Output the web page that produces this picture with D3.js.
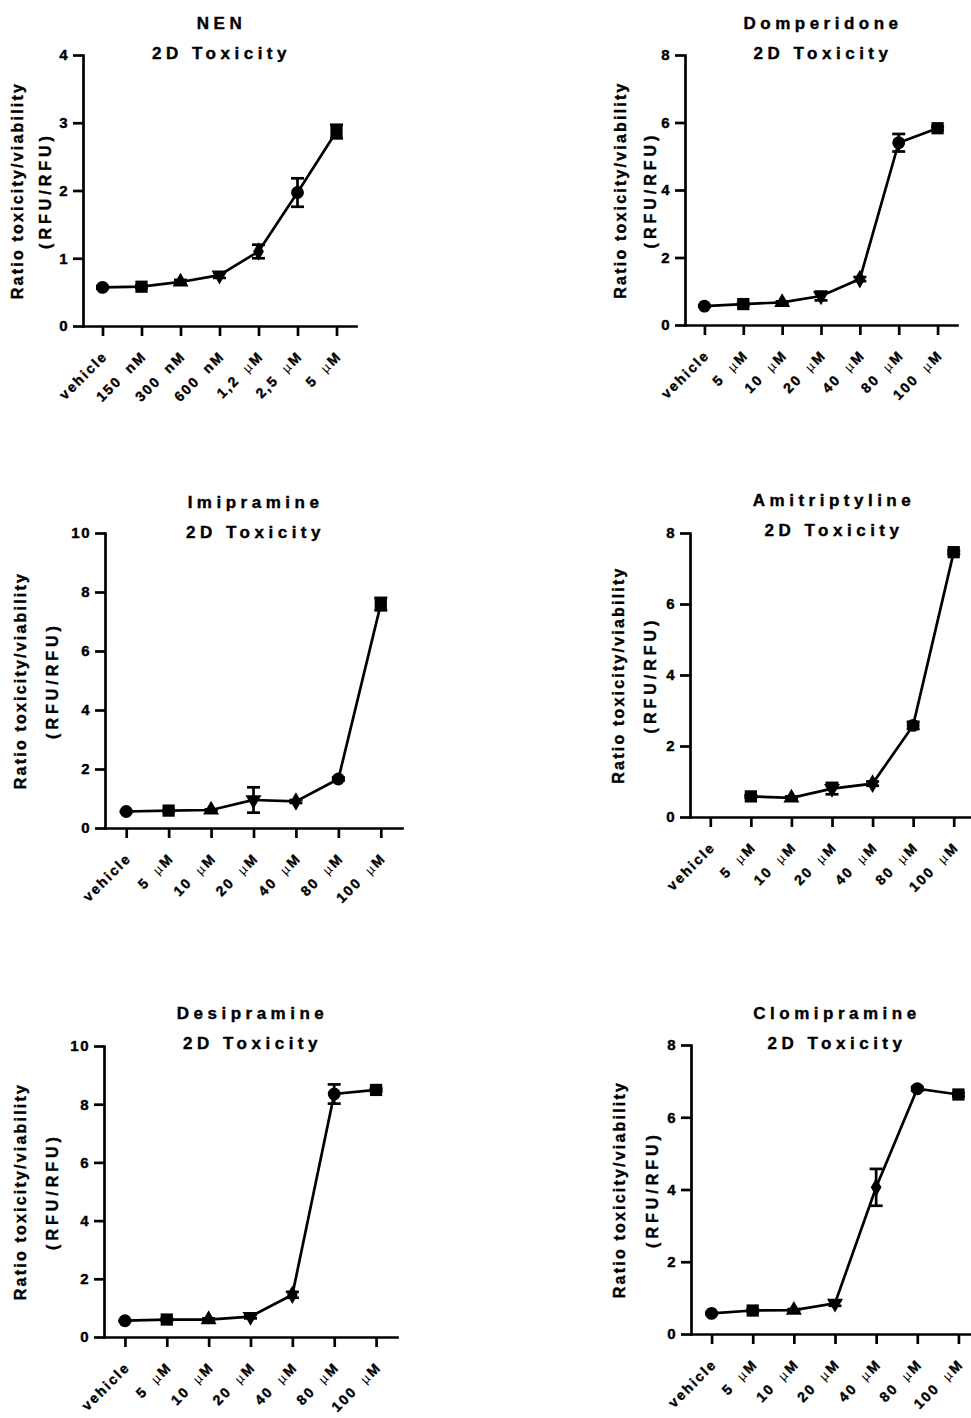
<!DOCTYPE html>
<html>
<head>
<meta charset="utf-8">
<script src="https://cdn.jsdelivr.net/npm/d3@7"></script>
<style>
  body { margin: 0; background: #fff; }
  text { font-family: "Liberation Sans", Arial, sans-serif; font-weight: bold; fill: #000; stroke: #000; stroke-width: 0.4px; }
</style>
</head>
<body>
<div id="chart"></div>
<script>
(function () {

  var width = 971, height = 1418

  // x categories
  var catsNEN = ["vehicle", "150 nM", "300 nM", "600 nM", "1,2 µM", "2,5 µM", "5 µM"]
  var catsMicro = ["vehicle", "5 µM", "10 µM", "20 µM", "40 µM", "80 µM", "100 µM"]

  // means and error (half bar)
  var nenMean = [0.57, 0.58, 0.65, 0.75, 1.10, 1.97, 2.87]
  var nenErr  = [0.02, 0.02, 0.03, 0.04, 0.10, 0.21, 0.10]

  var domMean = [0.56, 0.62, 0.67, 0.86, 1.36, 5.40, 5.83]
  var domErr  = [0.02, 0.03, 0.03, 0.13, 0.06, 0.26, 0.05]

  var imiMean = [0.56, 0.59, 0.61, 0.95, 0.90, 1.66, 7.59]
  var imiErr  = [0.02, 0.02, 0.02, 0.43, 0.05, 0.05, 0.21]

  var amiMean = [null, 0.58, 0.54, 0.80, 0.94, 2.58, 7.46]
  var amiErr  = [null, 0.03, 0.04, 0.16, 0.06, 0.10, 0.05]

  var desMean = [0.56, 0.60, 0.60, 0.70, 1.45, 8.35, 8.49]
  var desErr  = [0.02, 0.03, 0.04, 0.06, 0.10, 0.33, 0.05]

  var cloMean = [0.57, 0.65, 0.66, 0.85, 4.06, 6.79, 6.63]
  var cloErr  = [0.02, 0.03, 0.03, 0.07, 0.51, 0.05, 0.05]

  var symbolsByIndex = ["circle", "square", "triangle", "triangleDown", "diamond", "circle", "square"]

  var panels = [
    { name: "NEN", cats: catsNEN, mean: nenMean, err: nenErr, ymax: 4, step: 1,
      x0: 83, x1: 356, yTop: 55, yBot: 326, tY: [29, 59], lX: [23, 51] },
    { name: "Domperidone", cats: catsMicro, mean: domMean, err: domErr, ymax: 8, step: 2,
      x0: 685, x1: 957, yTop: 55, yBot: 325, tY: [29, 59], lX: [626, 656] },
    { name: "Imipramine", cats: catsMicro, mean: imiMean, err: imiErr, ymax: 10, step: 2,
      x0: 105, x1: 402, yTop: 533, yBot: 828, tY: [508, 538], lX: [26, 58] },
    { name: "Amitriptyline", cats: catsMicro, mean: amiMean, err: amiErr, ymax: 8, step: 2,
      x0: 690, x1: 974, yTop: 533, yBot: 817, tY: [506, 536], lX: [624, 656] },
    { name: "Desipramine", cats: catsMicro, mean: desMean, err: desErr, ymax: 10, step: 2,
      x0: 104, x1: 397, yTop: 1046, yBot: 1337, tY: [1019, 1049], lX: [26, 58] },
    { name: "Clomipramine", cats: catsMicro, mean: cloMean, err: cloErr, ymax: 8, step: 2,
      x0: 691, x1: 979, yTop: 1045, yBot: 1334, tY: [1019, 1049], lX: [625, 658] }
  ]

  var svg = d3.select("#chart").append("svg")
      .attr("width", width)
      .attr("height", height)

  svg.append("rect").attr("width", width).attr("height", height).attr("fill", "#fff")

  function symbolPath(kind) {
    if (kind == "circle") return d3.symbol(d3.symbolCircle, 130)()
    if (kind == "square") return d3.symbol(d3.symbolSquare, 150)()
    if (kind == "diamond") return d3.symbol(d3.symbolDiamond, 100)()
    return d3.symbol(d3.symbolTriangle, 110)()
  }

  function drawPanel(p) {
    var g = svg.append("g")

    var x = d3.scalePoint()
        .domain(p.cats)
        .range([p.x0, p.x1])
        .padding(0.5)

    var y = d3.scaleLinear()
        .domain([0, p.ymax])
        .range([p.yBot, p.yTop])

    var cx = (p.x0 + p.x1) / 2

    // titles
    g.append("text")
      .attr("x", cx + 2).attr("y", p.tY[0])
      .attr("text-anchor", "middle")
      .style("font-size", "17px")
      .style("letter-spacing", "4.5px")
      .text(p.name)
    g.append("text")
      .attr("x", cx + 2).attr("y", p.tY[1])
      .attr("text-anchor", "middle")
      .style("font-size", "17px")
      .style("letter-spacing", "4.5px")
      .text("2D Toxicity")

    // y axis title
    var cy = (p.yTop + p.yBot) / 2
    g.append("text")
      .attr("transform", "translate(" + p.lX[0] + "," + cy + ") rotate(-90)")
      .attr("text-anchor", "middle")
      .style("font-size", "16px")
      .style("letter-spacing", "2.2px")
      .text("Ratio toxicity/viability")
    g.append("text")
      .attr("transform", "translate(" + p.lX[1] + "," + cy + ") rotate(-90)")
      .attr("text-anchor", "middle")
      .style("font-size", "16px")
      .style("letter-spacing", "4px")
      .text("(RFU/RFU)")

    // axes
    var yAxis = g.append("g")
      .attr("transform", "translate(" + p.x0 + ",0)")
      .call(d3.axisLeft(y).tickValues(d3.range(0, p.ymax + 0.001, p.step))
        .tickSize(10).tickSizeOuter(0).tickPadding(4).tickFormat(d3.format("d")))
    yAxis.selectAll("text")
      .style("font-size", "15px")
      .style("letter-spacing", "1.5px")
      .style("font-family", "'Liberation Sans', Arial, sans-serif")

    var xAxis = g.append("g")
      .attr("transform", "translate(0," + p.yBot + ")")
      .call(d3.axisBottom(x).tickSize(10).tickSizeOuter(0))
    xAxis.selectAll("text").remove()

    g.selectAll(".domain, .tick line")
      .attr("stroke", "#000")
      .attr("stroke-width", 2.7)
    g.selectAll(".domain").attr("stroke-linecap", "square")

    // rotated x labels, µ drawn thinner
    p.cats.forEach(function(c) {
      var t = g.append("text")
        .attr("transform", "translate(" + (x(c) + 6) + "," + (p.yBot + 31) + ") rotate(-45)")
        .attr("text-anchor", "end")
        .style("font-size", "14px")
        .style("letter-spacing", "2px")
        .style("word-spacing", "5px")
      var parts = c.split("µ")
      t.append("tspan").text(parts[0])
      if (parts.length > 1) {
        t.append("tspan").style("font-weight", "normal").style("stroke-width", "0px")
          .style("font-size", "13px").text("µ")
        t.append("tspan").text(parts[1])
      }
    })

    var pts = p.cats.map(function(c, i) {
      return { cat: c, v: p.mean[i], e: p.err[i], sym: symbolsByIndex[i] }
    })

    var line = d3.line()
      .defined(function(d) { return d.v != null })
      .x(function(d) { return x(d.cat) })
      .y(function(d) { return y(d.v) })

    g.append("path")
      .datum(pts)
      .attr("d", line)
      .attr("fill", "none")
      .attr("stroke", "#000")
      .attr("stroke-width", 2.7)

    var valid = pts.filter(function(d) { return d.v != null })

    // error bars
    var eb = g.selectAll(".err")
      .data(valid)
      .enter().append("g")
      .attr("class", "err")
    eb.append("line")
      .attr("x1", function(d) { return x(d.cat) })
      .attr("x2", function(d) { return x(d.cat) })
      .attr("y1", function(d) { return y(d.v - d.e) })
      .attr("y2", function(d) { return y(d.v + d.e) })
      .attr("stroke", "#000").attr("stroke-width", 2.7)
    ;[-1, 1].forEach(function(s) {
      eb.append("line")
        .attr("x1", function(d) { return x(d.cat) - 6.5 })
        .attr("x2", function(d) { return x(d.cat) + 6.5 })
        .attr("y1", function(d) { return y(d.v + s * d.e) })
        .attr("y2", function(d) { return y(d.v + s * d.e) })
        .attr("stroke", "#000").attr("stroke-width", 2.7)
    })

    // markers
    g.selectAll(".mark")
      .data(valid)
      .enter().append("path")
      .attr("class", "mark")
      .attr("d", function(d) { return symbolPath(d.sym) })
      .attr("transform", function(d) {
        var r = d.sym == "triangleDown" ? " rotate(180)" : ""
        return "translate(" + x(d.cat) + "," + y(d.v) + ")" + r
      })
      .attr("fill", "#000")
  }

  panels.forEach(drawPanel)

})()
</script>
</body>
</html>
